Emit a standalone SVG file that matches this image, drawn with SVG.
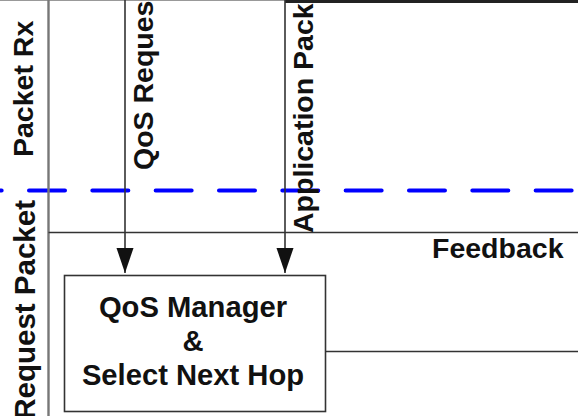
<svg xmlns="http://www.w3.org/2000/svg" width="578" height="416" viewBox="0 0 578 416">
  <style>
    .lbl { font-family: "Liberation Sans", Arial, sans-serif; font-weight: bold; font-size: 28.5px; fill: #111; }
    .box-lbl { font-size: 29.2px; }
    .wire { stroke: #333; stroke-width: 1.6; fill: none; }
    .lane { stroke: #777; stroke-width: 2.4; fill: none; }
    .split { stroke: #0000ff; stroke-width: 4; stroke-linecap: round; stroke-dasharray: 36 27.33; stroke-dashoffset: 34.33; fill: none; }
  </style>
  <defs>
    <marker id="arrow" markerUnits="userSpaceOnUse" markerWidth="26" markerHeight="18" refX="25" refY="8.5" orient="auto">
      <path d="M0,0 L25,8.5 L0,17 z" fill="#111"/>
    </marker>
  </defs>
  <rect width="578" height="416" fill="#fff"/>

  <!-- layer boundary -->
  <line class="split" x1="0" y1="190.5" x2="578" y2="190.5"/>

  <g id="connectors">
    <line x1="0" y1="0.5" x2="285" y2="0.5" stroke="#999" stroke-width="1"/>
    <line x1="285" y1="1.5" x2="578" y2="1.5" stroke="#222" stroke-width="3"/>
    <line class="lane" x1="48.5" y1="0" x2="48.5" y2="416"/>
    <line class="wire" x1="48.5" y1="232.5" x2="578" y2="232.5"/>
    <line class="wire" x1="125" y1="0" x2="125" y2="273" marker-end="url(#arrow)"/>
    <line class="wire" x1="285" y1="0" x2="285" y2="273" marker-end="url(#arrow)"/>
    <line class="wire" x1="326" y1="351.5" x2="578" y2="351.5"/>
  </g>

  <g id="label-packet-rx">
    <text class="lbl" transform="translate(33,157) rotate(-90)">Packet Rx</text>
  </g>
  <g id="label-request-packet">
    <text class="lbl" style="font-size:29.5px" text-anchor="end" transform="translate(35,200) rotate(-90)">Request Packet</text>
  </g>
  <g id="label-qos-request">
    <text class="lbl" transform="translate(153,170) rotate(-90)">QoS Reques</text>
  </g>
  <g id="label-application-packet">
    <text class="lbl" transform="translate(313,233) rotate(-90)">Application Pack</text>
  </g>
  <g id="label-feedback">
    <text class="lbl" x="432" y="258">Feedback</text>
  </g>

  <g id="qos-manager">
    <rect class="wire" x="64.5" y="275.5" width="261" height="136" fill="#fff"/>
    <text class="lbl box-lbl" text-anchor="middle" x="193" y="317">QoS Manager</text>
    <text class="lbl box-lbl" text-anchor="middle" x="193" y="351">&amp;</text>
    <text class="lbl box-lbl" text-anchor="middle" x="193" y="385">Select Next Hop</text>
  </g>
</svg>
